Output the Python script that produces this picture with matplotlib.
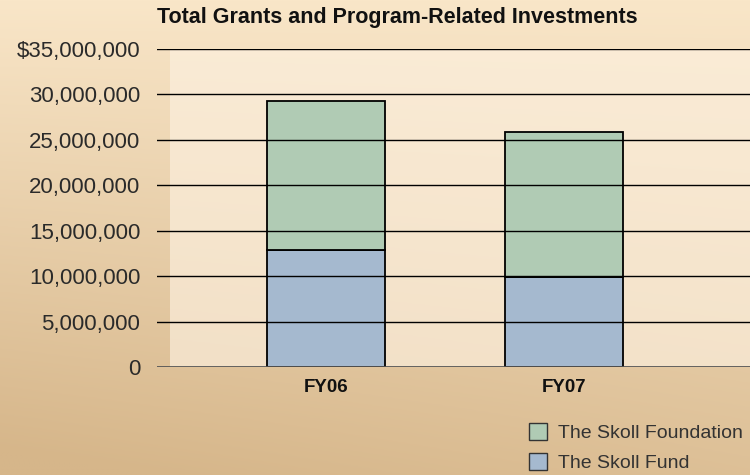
import matplotlib.pyplot as plt
import numpy as np
from matplotlib.patches import Patch, Rectangle
from matplotlib.ticker import FuncFormatter

plt.rcParams['font.family'] = ['Liberation Sans', 'DejaVu Sans']

years = ['FY06', 'FY07']
skoll_fund = [12.85e6, 9.87e6]
skoll_foundation = [16.40e6, 15.96e6]   # stacked on top of the fund
yticks = [0, 5e6, 10e6, 15e6, 20e6, 25e6, 30e6, 35e6]

green = '#b0cbb4'
blue = '#a5b9cf'

fig = plt.figure(figsize=(7.5, 4.75), dpi=100)

# sandy background
bg = fig.add_axes([0, 0, 1, 1], zorder=-10)
yy, xx = np.mgrid[0:1:200j, 0:1:300j]
top = np.array([249, 230, 200]) / 255
bot = np.array([214, 182, 138]) / 255
t = np.clip(yy * 0.8 + 0.25 * (1 - xx) * yy, 0, 1)[..., None]
img = top * (1 - t) + bot * t
bg.imshow(img, aspect='auto', extent=[0, 1, 0, 1], origin='upper')
bg.axis('off')
fig.patches.append(Rectangle((170 / 750, 1 - 367 / 475), 1 - 170 / 750, (367 - 50) / 475,
                             transform=fig.transFigure, facecolor='#fdf1e0', alpha=0.65,
                             edgecolor='none', zorder=-5))

ax = fig.add_axes([157 / 750, 1 - 367 / 475, 1 - 157 / 750, (367 - 49) / 475])
ax.set_facecolor('none')
x = np.arange(len(years))
ax.bar(x, skoll_fund, width=0.496, color=blue, edgecolor='black', linewidth=1.3, zorder=2)
ax.bar(x, skoll_foundation, bottom=skoll_fund, width=0.496, color=green,
       edgecolor='black', linewidth=1.3, zorder=2)

for v in yticks[1:]:
    ax.axhline(v, color='black', linewidth=1.0, zorder=3)
ax.axhline(0, color='#555555', linewidth=2, zorder=3)

ax.set_xlim(-0.710, 1.7815)
ax.set_ylim(0, 35e6)
ax.set_yticks(yticks)
ax.yaxis.set_major_formatter(FuncFormatter(
    lambda v, p: '$35,000,000' if v == 35e6 else ('0' if v == 0 else f'{int(v):,}')))
ax.tick_params(axis='y', length=0, pad=12, labelsize=16, labelcolor='#2a2a2a')
ax.set_xticks(x)
ax.set_xticklabels(years, fontweight='bold', fontsize=13.5)
ax.tick_params(axis='x', length=0, pad=9, labelcolor='#111111')
for s in ax.spines.values():
    s.set_visible(False)

fig.text(157 / 750, 1 - 18 / 475, 'Total Grants and Program-Related Investments',
         fontsize=15.5, fontweight='bold', va='center', ha='left', color='#111111')

handles = [Patch(facecolor=green, edgecolor='#333333', linewidth=1),
           Patch(facecolor=blue, edgecolor='#333333', linewidth=1)]
fig.legend(handles, ['The Skoll Foundation', 'The Skoll Fund'], loc='upper left',
           bbox_to_anchor=(529 / 750, 1 - 423 / 475), frameon=False, fontsize=14,
           handlelength=0.95, handleheight=0.95, handletextpad=0.55, labelspacing=0.55,
           borderpad=0, borderaxespad=0, labelcolor='#333333')

fig.savefig('out.png', dpi=100)
